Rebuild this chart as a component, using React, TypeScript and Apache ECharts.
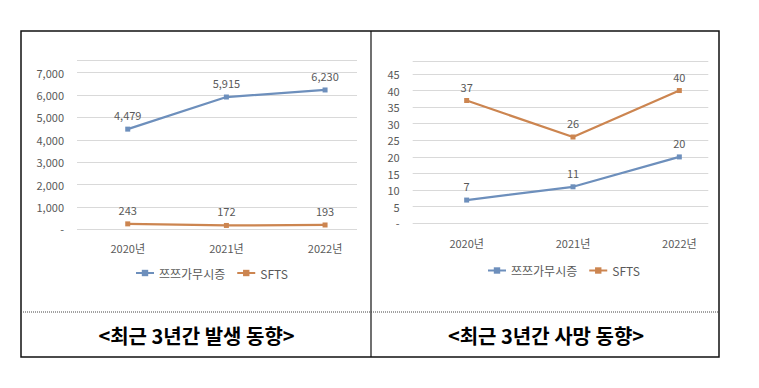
import React, { useEffect, useRef } from "react";
import * as echarts from "echarts";

const categories = ["2020년", "2021년", "2022년"];
const seriesNames = ["쯔쯔가무시증", "SFTS"];
const occurTsutsu = [4479, 5915, 6230];
const occurSfts = [243, 172, 193];
const deathTsutsu = [7, 11, 20];
const deathSfts = [37, 26, 40];
const captionLeft = "<최근 3년간 발생 동향>";
const captionRight = "<최근 3년간 사망 동향>";

const BLUE = "#6D8FBC";
const ORANGE = "#CC8550";
const GRAY = "#595959";
const GRID = "#d9d9d9";
const FONT = '"Noto Sans CJK KR", "Noto Sans", sans-serif';

export default function App() {
  const ref = useRef<HTMLDivElement>(null);
  useEffect(() => {
    if (!ref.current) return;
    const chart = echarts.init(ref.current, null, { renderer: "svg" });

    const fmtThousands = (v: number) => Number(v).toLocaleString("en-US");

    const yLabel = (maxShown: number, thousands: boolean) => ({
      color: GRAY,
      fontSize: 11,
      fontFamily: FONT,
      margin: 13,
      formatter: (v: number) => {
        if (v > maxShown) return "";
        if (v === 0) return "-";
        return thousands ? fmtThousands(v) : String(v);
      },
    });

    const mkSeries = (name: string, data: number[], color: string, ax: number, thousands: boolean) => ({
      name,
      type: "line",
      xAxisIndex: ax,
      yAxisIndex: ax,
      data,
      symbol: "rect",
      symbolSize: 5,
      color,
      lineStyle: { color, width: 2.25 },
      itemStyle: { color },
      label: {
        show: true,
        position: "top",
        distance: 6,
        color: GRAY,
        fontSize: 11,
        fontFamily: FONT,
        formatter: (p: any) => (thousands ? fmtThousands(p.value) : String(p.value)),
      },
    });

    const leftMax = 7570;
    const rightMax = 48.9;

    const option: any = {
      animation: false,
      backgroundColor: "#ffffff",
      grid: [
        { left: 77, top: 60, width: 280, height: 169.3 },
        { left: 78.4, top: 60, width: 296, height: 169.3 },
        { left: 412.7, top: 61, width: 295.6, height: 162.3 },
        { left: 413.5, top: 61, width: 319, height: 162.3 },
      ],
      xAxis: [
        { type: "value", gridIndex: 0, show: false },
        {
          type: "category",
          gridIndex: 1,
          data: categories,
          boundaryGap: true,
          axisLine: { show: false },
          axisTick: { show: false },
          axisLabel: { color: GRAY, fontSize: 11, fontFamily: FONT, margin: 13 },
        },
        { type: "value", gridIndex: 2, show: false },
        {
          type: "category",
          gridIndex: 3,
          data: categories,
          boundaryGap: true,
          axisLine: { show: false },
          axisTick: { show: false },
          axisLabel: { color: GRAY, fontSize: 11, fontFamily: FONT, margin: 14.5 },
        },
      ],
      yAxis: [
        {
          type: "value",
          gridIndex: 0,
          min: 0,
          max: leftMax,
          interval: 1000,
          axisLine: { show: false },
          axisTick: { show: false },
          splitLine: { show: true, lineStyle: { color: GRID, width: 1 } },
          axisLabel: yLabel(7000, true),
        },
        { type: "value", gridIndex: 1, min: 0, max: leftMax, show: false, splitLine: { show: false } },
        {
          type: "value",
          gridIndex: 2,
          min: 0,
          max: rightMax,
          interval: 5,
          axisLine: { show: false },
          axisTick: { show: false },
          splitLine: { show: true, lineStyle: { color: GRID, width: 1 } },
          axisLabel: yLabel(45, false),
        },
        { type: "value", gridIndex: 3, min: 0, max: rightMax, show: false, splitLine: { show: false } },
      ],
      legend: [
        {
          data: seriesNames,
          left: 135,
          top: 267,
          padding: 0,
          itemWidth: 18,
          itemHeight: 8,
          itemGap: 11,
          selectedMode: false,
          textStyle: { color: GRAY, fontSize: 12, fontFamily: FONT },
        },
        {
          data: seriesNames,
          left: 487,
          top: 264.5,
          padding: 0,
          itemWidth: 18,
          itemHeight: 8,
          itemGap: 11,
          selectedMode: false,
          textStyle: { color: GRAY, fontSize: 12, fontFamily: FONT },
        },
      ],
      series: [
        mkSeries(seriesNames[0], occurTsutsu, BLUE, 1, true),
        mkSeries(seriesNames[1], occurSfts, ORANGE, 1, true),
        mkSeries(seriesNames[0], deathTsutsu, BLUE, 3, false),
        mkSeries(seriesNames[1], deathSfts, ORANGE, 3, false),
      ],
      graphic: [
        {
          type: "rect",
          shape: { x: 21, y: 31, width: 698, height: 326 },
          style: { fill: "none", stroke: "#111", lineWidth: 1.5 },
          silent: true,
        },
        {
          type: "line",
          shape: { x1: 371, y1: 31, x2: 371, y2: 357 },
          style: { stroke: "#111", lineWidth: 1.2 },
          silent: true,
        },
        {
          type: "line",
          shape: { x1: 21, y1: 312, x2: 719, y2: 312 },
          style: { stroke: "#444", lineWidth: 1, lineDash: [1, 1] },
          silent: true,
        },
        {
          type: "text",
          x: 196.5,
          y: 335.5,
          style: {
            text: captionLeft,
            align: "center",
            verticalAlign: "middle",
            font: 'bold 20px "Noto Sans CJK KR", sans-serif',
            fill: "#000",
          },
          silent: true,
        },
        {
          type: "text",
          x: 546,
          y: 335.5,
          style: {
            text: captionRight,
            align: "center",
            verticalAlign: "middle",
            font: 'bold 20px "Noto Sans CJK KR", sans-serif',
            fill: "#000",
          },
          silent: true,
        },
      ],
    };

    chart.setOption(option);
    return () => chart.dispose();
  }, []);

  return (
    <div
      ref={ref}
      style={{ position: "fixed", left: 0, top: 0, width: 759, height: 388, background: "#fff" }}
    />
  );
}
